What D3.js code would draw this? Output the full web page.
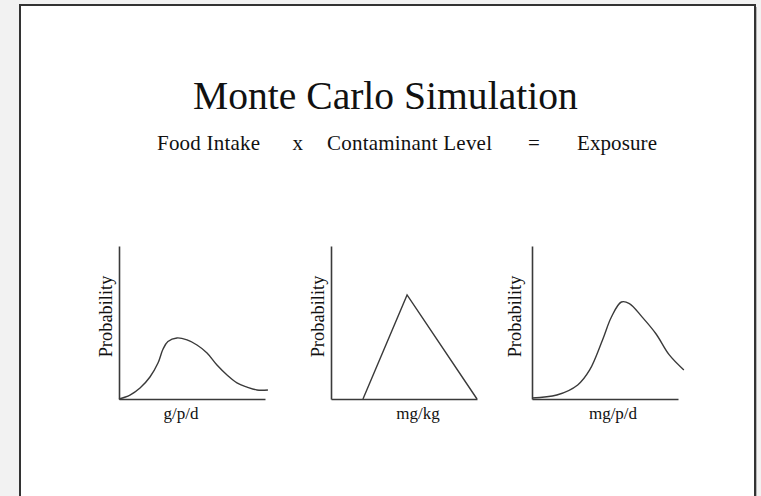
<!DOCTYPE html>
<html>
<head>
<meta charset="utf-8">
<script src="https://cdn.jsdelivr.net/npm/d3@7"></script>
<style>
  html, body { margin: 0; padding: 0; background: #f2f2f2; }
  svg { display: block; }
  text { font-family: "Liberation Serif", "Times New Roman", serif; fill: #111; }
</style>
</head>
<body>
<div id="chart"></div>
<script>
// --- data (x and y in percent of each little axis) ---
var title = "Monte Carlo Simulation";
var equationTerms = ["Food Intake", "x", "Contaminant Level", "=", "Exposure"];
var yLabels = ["Probability", "Probability", "Probability"];
var xLabels = ["g/p/d", "mg/kg", "mg/p/d"];

var foodIntakeX = [0, 7.5, 14.4, 21.2, 26.7, 30.1, 33.5, 39.7, 46.6, 53.4, 60.3, 67.1, 74.0, 80.8, 87.7, 94.5, 102];
var foodIntakeY = [0, 2.6, 7.2, 14.4, 23.5, 32.5, 37.6, 39.9, 38.6, 35.3, 30.1, 22.2, 15.7, 10.5, 7.8, 5.9, 5.9];

var contaminantX = [21.9, 52.1, 100];
var contaminantY = [0, 68.0, 0];

var exposureX = [0, 17.0, 31.3, 39.5, 48.3, 54.4, 61.2, 66.7, 75.5, 85.0, 93.9, 104];
var exposureY = [0.7, 2.6, 9.2, 19.0, 38.6, 53.6, 63.4, 62.4, 53.5, 42.5, 29.0, 19.0];

// --- layout ---
var W = 761, H = 496;
var panelLeft = [119, 331, 532];
var panelTop = 246, panelW = 146, panelH = 153;
var yLabelOffset = [-7, -7, -11];
var xLabelCenter = [62, 87, 81];
var termX = [157, 292.5, 327, 528, 577];
var termW = [103, null, 165, null, 80];

var svg = d3.select("#chart").append("svg")
    .attr("width", W)
    .attr("height", H);

// slide frame
svg.append("rect")
    .attr("x", 22).attr("y", 7)
    .attr("width", 735).attr("height", 600)
    .attr("fill", "#b5b5b5");
svg.append("rect")
    .attr("x", 20).attr("y", 5)
    .attr("width", 735).attr("height", 600)
    .attr("fill", "#fff")
    .attr("stroke", "#333")
    .attr("stroke-width", 2);

svg.append("text")
    .attr("x", 193).attr("y", 109)
    .attr("font-size", 39.6)
    .text(title);

svg.selectAll(".term")
    .data(equationTerms)
    .enter()
    .append("text")
    .attr("class", "term")
    .attr("x", function(d, i) { return termX[i]; })
    .attr("y", 150)
    .attr("font-size", 21)
    .each(function(d, i) {
        if (termW[i]) d3.select(this).attr("textLength", termW[i]).attr("lengthAdjust", "spacing");
    })
    .text(function(d) { return d; });

var series = [
    { xs: foodIntakeX, ys: foodIntakeY, curve: d3.curveCatmullRom },
    { xs: contaminantX, ys: contaminantY, curve: d3.curveLinear },
    { xs: exposureX, ys: exposureY, curve: d3.curveCatmullRom }
];

series.forEach(function(s, i) {
    var g = svg.append("g")
        .attr("transform", "translate(" + panelLeft[i] + "," + panelTop + ")");

    var x = d3.scaleLinear().domain([0, 100]).range([0, panelW]);
    var y = d3.scaleLinear().domain([0, 100]).range([panelH, 0]);

    var pts = s.xs.map(function(v, j) { return [v, s.ys[j]]; });

    var line = d3.line()
        .x(function(d) { return x(d[0]); })
        .y(function(d) { return y(d[1]); })
        .curve(s.curve);

    g.append("path")
        .datum(pts)
        .attr("d", line)
        .attr("fill", "none")
        .attr("stroke", "#3a3a3a")
        .attr("stroke-width", 1.4);

    var xAxis = g.append("g")
        .attr("transform", "translate(0," + panelH + ")")
        .call(d3.axisBottom(x).ticks(0).tickSizeOuter(0));
    var yAxis = g.append("g")
        .call(d3.axisLeft(y).ticks(0).tickSizeOuter(0));
    [xAxis, yAxis].forEach(function(a) {
        a.select(".domain").attr("stroke", "#3a3a3a").attr("stroke-width", 1.6);
    });

    g.append("text")
        .attr("transform", "translate(" + yLabelOffset[i] + "," + (panelH / 2 - 6) + ") rotate(-90)")
        .attr("text-anchor", "middle")
        .attr("font-size", 18.4)
        .text(yLabels[i]);

    g.append("text")
        .attr("x", xLabelCenter[i])
        .attr("y", panelH + 20)
        .attr("text-anchor", "middle")
        .attr("font-size", 17)
        .text(xLabels[i]);
});
</script>
</body>
</html>
